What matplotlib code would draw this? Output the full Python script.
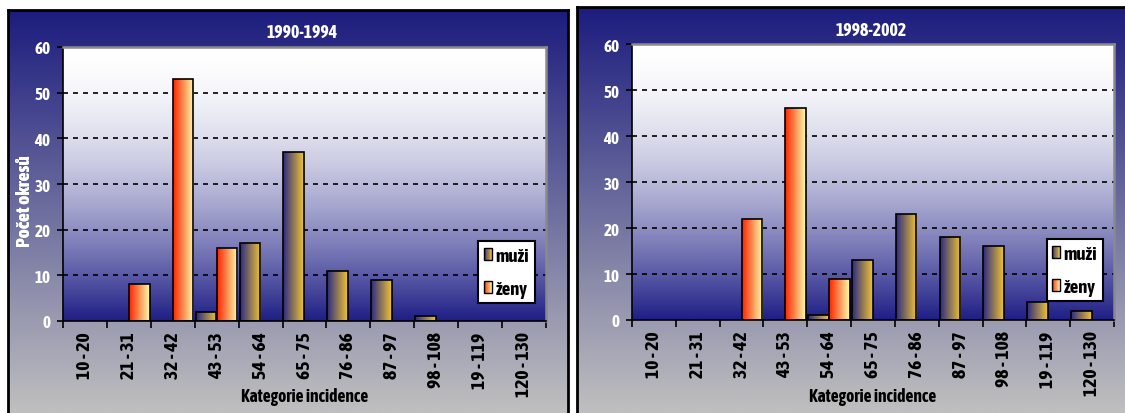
import numpy as np
import matplotlib
matplotlib.use("Agg")
import matplotlib.pyplot as plt
from matplotlib.patches import Rectangle
from matplotlib.legend_handler import HandlerBase
from matplotlib.colors import to_rgb
from matplotlib import font_manager

# ---------------- data ----------------
categories = ["10 - 20", "21 - 31", "32 - 42", "43 - 53", "54 - 64", "65 - 75",
              "76 - 86", "87 - 97", "98 - 108", "19 - 119", "120 - 130"]
titles = ["1990-1994", "1998-2002"]
muzi_1990 = [0, 0, 0, 2, 17, 37, 11, 9, 1, 0, 0]
zeny_1990 = [0, 8, 53, 16, 0, 0, 0, 0, 0, 0, 0]
muzi_1998 = [0, 0, 0, 0, 1, 13, 23, 18, 16, 4, 2]
zeny_1998 = [0, 0, 22, 46, 9, 0, 0, 0, 0, 0, 0]
series_names = ["muži", "ženy"]
yticks = [0, 10, 20, 30, 40, 50, 60]

allnarrow = [f for f in font_manager.fontManager.ttflist
             if ("Narrow" in f.name or "Condensed" in f.name)]
boldnarrow = sorted({f.name for f in allnarrow
                     if (isinstance(f.weight, int) and f.weight >= 600) or
                     (isinstance(f.weight, str) and "bold" in f.weight.lower())})
FONT = boldnarrow[:1] + ["Liberation Sans", "DejaVu Sans"]
plt.rcParams["font.family"] = FONT
plt.rcParams["font.weight"] = "bold"
SC = 1.12 if boldnarrow else 1.0

W, H = 1125, 414
fig = plt.figure(figsize=(W / 100, H / 100), dpi=100)
fig.patch.set_facecolor("white")

NAVY = np.array(to_rgb("#1c1c7e"))
GRAY = np.array(to_rgb("#c0c0c0"))
WHITE = np.array([1.0, 1.0, 1.0])
PLOTNAVY = np.array(to_rgb("#1e1e86"))

grad_muzi = (to_rgb("#2a2a82"), to_rgb("#f2c431"))
grad_zeny = (to_rgb("#ff2200"), to_rgb("#ffffa8"))


def vgrad(c_top, c_bot, n=256, power=1.0):
    t = np.linspace(0, 1, n) ** power
    arr = (1 - t)[:, None] * np.array(c_top)[None, :] + t[:, None] * np.array(c_bot)[None, :]
    return arr[:, None, :]


def hgrad(c_left, c_right, n=128):
    t = np.linspace(0, 1, n)
    arr = (1 - t)[:, None] * np.array(c_left)[None, :] + t[:, None] * np.array(c_right)[None, :]
    return arr[None, :, :]


class GradHandler(HandlerBase):
    def __init__(self, cols):
        super().__init__()
        self.cols = cols

    def create_artists(self, legend, orig_handle, xdescent, ydescent, width, height, fontsize, trans):
        arts = []
        n = 10
        w = width
        hh = height * 0.95
        x0 = -xdescent
        y0 = -ydescent + (height - hh) / 2
        c0, c1 = np.array(self.cols[0]), np.array(self.cols[1])
        for k in range(n):
            t = (k + 0.5) / n
            c = (1 - t) * c0 + t * c1
            r = Rectangle((x0 + k * w / n, y0), w / n + 0.3, hh, facecolor=c,
                          edgecolor="none", transform=trans)
            arts.append(r)
        arts.append(Rectangle((x0, y0), w, hh, facecolor="none", edgecolor="black",
                              lw=1.0, transform=trans))
        return arts


def panel(px0, py0, px1, plot_box, title, title_y, muzi, zeny, leg_anchor):
    bg = fig.add_axes([px0 / W, 0, (px1 - px0) / W, (H - py0) / H])
    bg.imshow(vgrad(NAVY, GRAY), aspect="auto", extent=[0, 1, 0, 1], zorder=0)
    bg.set_xlim(0, 1)
    bg.set_ylim(0, 1)
    bg.set_xticks([])
    bg.set_yticks([])
    for s in ["top", "left", "right"]:
        bg.spines[s].set_color("black")
        bg.spines[s].set_linewidth(2)
    bg.spines["bottom"].set_visible(False)

    x0, y0, x1, y1 = plot_box
    ax = fig.add_axes([x0 / W, (H - y1) / H, (x1 - x0) / W, (y1 - y0) / H])
    ax.set_xlim(0, len(categories))
    ax.set_ylim(0, 60)
    ax.imshow(vgrad(WHITE, PLOTNAVY, power=1.7), aspect="auto",
              extent=[0, len(categories), 0, 60], zorder=0)

    ax.set_yticks(yticks)
    ax.set_yticklabels([str(v) for v in yticks], color="white", fontsize=11 * SC, fontweight="bold")
    for v in yticks[1:-1]:
        ax.axhline(v, color="black", lw=1.2, ls=(0, (3, 3)), zorder=1)

    x = np.arange(len(categories))
    bm = ax.bar(x + 0.02, muzi, width=0.47, align="edge", facecolor="none",
                edgecolor="black", lw=1.2, zorder=3)
    bz = ax.bar(x + 0.5, zeny, width=0.47, align="edge", facecolor="none",
                edgecolor="black", lw=1.2, zorder=3)
    for bars, g in ((bm, grad_muzi), (bz, grad_zeny)):
        for b in bars:
            h = b.get_height()
            if h <= 0:
                b.set_visible(False)
                continue
            bx = b.get_x()
            bw = b.get_width()
            im = ax.imshow(hgrad(*g), aspect="auto", extent=[bx, bx + bw, 0, h], zorder=2)
            im.set_clip_path(b)
    ax.set_xlim(0, len(categories))
    ax.set_ylim(0, 60)

    ax.set_xticks(np.arange(len(categories) + 1))
    ax.set_xticklabels([])
    ax.set_xticks(x + 0.5, minor=True)
    ax.set_xticklabels(categories, minor=True, rotation=90, fontsize=12.5 * SC,
                       fontweight="bold", color="black")
    ax.tick_params(axis="x", which="major", length=5, width=1.2, direction="out", color="black")
    ax.tick_params(axis="x", which="minor", length=0, pad=7.5)
    ax.tick_params(axis="y", length=4, width=1.2, direction="out", color="black", pad=5)

    ax.spines["left"].set_color("black")
    ax.spines["left"].set_linewidth(1.2)
    ax.spines["bottom"].set_color("black")
    ax.spines["bottom"].set_linewidth(1.2)
    for s in ["top", "right"]:
        ax.spines[s].set_color("#8a8a8a")
        ax.spines[s].set_linewidth(1.8)

    ax.set_ylabel("Počet okresů", fontsize=12.5 * SC, fontweight="bold", color="white")
    ax.yaxis.set_label_coords((34 - x0) / (x1 - x0), (y1 - 201) / (y1 - y0))

    fig.text(((x0 + x1) / 2) / W, 1 - 397 / H, "Kategorie incidence", ha="center", va="center",
             fontsize=11.3 * SC, fontweight="bold", color="black")
    fig.text(((x0 + x1) / 2 - 2) / W, 1 - title_y / H, title, ha="center", va="center",
             fontsize=11.5 * SC, fontweight="bold", color="white")

    h1 = Rectangle((0, 0), 1, 1)
    h2 = Rectangle((0, 0), 1, 1)
    leg = ax.legend([h1, h2], series_names, loc="upper right", bbox_to_anchor=leg_anchor,
                    handler_map={h1: GradHandler(grad_muzi), h2: GradHandler(grad_zeny)},
                    frameon=True, fancybox=False, edgecolor="black", framealpha=1,
                    prop={"size": 12 * SC, "weight": "bold"}, handlelength=0.42,
                    handleheight=0.62, handletextpad=0.2, labelspacing=0.8,
                    borderpad=0.3, borderaxespad=0)
    leg.get_frame().set_linewidth(1.5)
    leg.set_zorder(5)
    return ax


panel(8, 11, 568, (63, 48, 546, 322), titles[0], 33, muzi_1990, zeny_1990, (0.977, 0.292))
panel(577, 8, 1127, (632, 45, 1114, 321), titles[1], 31, muzi_1998, zeny_1998, (0.977, 0.293))

fig.savefig("out.png", dpi=100, facecolor="white")
